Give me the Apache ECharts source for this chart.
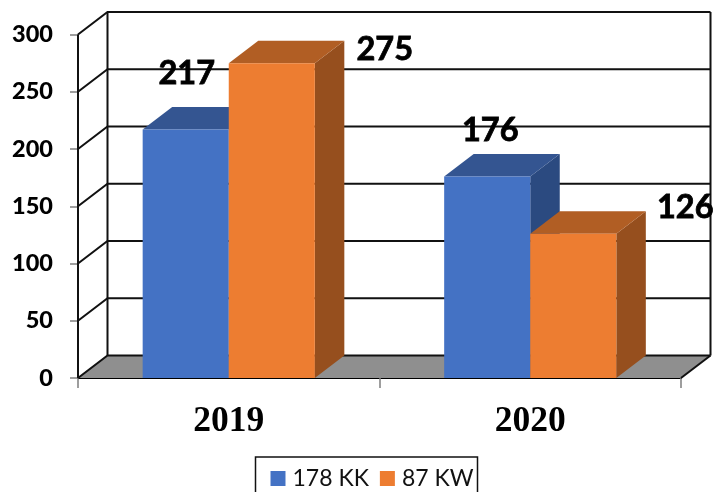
<!DOCTYPE html>
<html><head><meta charset="utf-8">
<style>html,body{margin:0;padding:0;background:#fff;overflow:hidden}#c{width:713px;height:492px}</style>
<script src="https://cdn.jsdelivr.net/npm/echarts@6/dist/echarts.min.js"></script>
</head><body><div id="c"></div>
<script>
const categories = ['2019', '2020'];
const valueTicks = [0, 50, 100, 150, 200, 250, 300];
const seriesNames = ['178 KK', '87 KW'];
const values178KK = [217, 176];
const values87KW = [275, 126];

const DEPTH_X = 29.5, DEPTH_Y = 22.5, BAR_RATIO = 0.2855;
const palette = [
  {front: '#4472C4', top: '#345591', side: '#2B4A80'},
  {front: '#ED7D31', top: '#B15E24', side: '#964F1E'}
];
const labelNudge = [
  [[1, -56], [113, -14]],
  [[3, -46], [112, -26]]
];

const chart = echarts.init(document.getElementById('c'), null, {renderer: 'canvas'});
const lineStyle = {stroke: '#111', lineWidth: 2, fill: null};

function renderFloor(params, api) {
  const cs = params.coordSys;
  const y0 = api.coord([0, 0])[1];
  const l = cs.x, r = cs.x + cs.width;
  return {type: 'polygon', silent: true,
    shape: {points: [[l, y0], [l + DEPTH_X, y0 - DEPTH_Y], [r + DEPTH_X, y0 - DEPTH_Y], [r, y0]]},
    style: {fill: '#8F8F8F', stroke: null}};
}
function renderWall(params, api) {
  const cs = params.coordSys;
  const v = api.value(1);
  const y = api.coord([0, v])[1];
  const l = cs.x, r = cs.x + cs.width;
  const kids = [
    {type: 'polyline', shape: {points: [[l, y], [l + DEPTH_X, y - DEPTH_Y], [r + DEPTH_X, y - DEPTH_Y]]}, style: lineStyle}
  ];
  if (v === 0) {
    kids.push({type: 'line', shape: {x1: r, y1: y, x2: r + DEPTH_X, y2: y - DEPTH_Y}, style: lineStyle});
    const top = cs.y;
    kids.push({type: 'line', shape: {x1: l, y1: y, x2: l, y2: top}, style: lineStyle});
    kids.push({type: 'line', shape: {x1: l + DEPTH_X, y1: y - DEPTH_Y, x2: l + DEPTH_X, y2: top - DEPTH_Y}, style: lineStyle});
    kids.push({type: 'line', shape: {x1: r + DEPTH_X, y1: y - DEPTH_Y, x2: r + DEPTH_X, y2: top - DEPTH_Y}, style: lineStyle});
  }
  return {type: 'group', silent: true, children: kids};
}
function renderBar(seriesPos) {
  return function (params, api) {
    const cat = api.value(0), val = api.value(1);
    const c = api.coord([cat, val]);
    const base = api.coord([cat, 0]);
    const w = api.size([1, 0])[0] * BAR_RATIO;
    const x0 = c[0] - w + seriesPos * w, x1 = x0 + w;
    const yt = c[1], yb = base[1];
    const p = palette[seriesPos];
    const nudge = labelNudge[cat][seriesPos];
    return {type: 'group', children: [
      {type: 'polygon', shape: {points: [[x1, yt], [x1 + DEPTH_X, yt - DEPTH_Y], [x1 + DEPTH_X, yb - DEPTH_Y], [x1, yb]]}, style: {fill: p.side}},
      {type: 'polygon', shape: {points: [[x0, yt], [x0 + DEPTH_X, yt - DEPTH_Y], [x1 + DEPTH_X, yt - DEPTH_Y], [x1, yt]]}, style: {fill: p.top}},
      {type: 'rect', shape: {x: x0, y: yt, width: w, height: yb - yt}, style: {fill: p.front}},
      {type: 'text', z2: 50, style: {
        text: String(val), x: (x0 + x1) / 2 + nudge[0], y: yt + nudge[1],
        align: 'center', verticalAlign: 'middle',
        font: 'bold 32.5px Lato', fill: '#000', stroke: '#000', lineWidth: 0.8}}
    ]};
  };
}

chart.setOption({
  backgroundColor: '#fff',
  animation: false,
  grid: {left: 78, top: 34.5, width: 603, height: 343.5},
  legend: {
    data: seriesNames, left: 255.5, top: 457, orient: 'horizontal', icon: 'rect',
    itemWidth: 15, itemHeight: 15, itemGap: 11,
    padding: [10, 4, 12, 15], borderColor: '#111', borderWidth: 1.5,
    selectedMode: false,
    textStyle: {fontFamily: 'Lato', fontSize: 23, color: '#111', padding: [0, 0, 0, 2]}
  },
  xAxis: {
    type: 'category', data: categories,
    axisLine: {lineStyle: {color: '#000', width: 2}},
    axisTick: {show: true, length: 10, lineStyle: {color: '#7F7F7F', width: 1.5}},
    axisLabel: {fontFamily: 'Liberation Serif', fontWeight: 'bold', fontSize: 35.5, color: '#000', margin: 26}
  },
  yAxis: {
    type: 'value', min: 0, max: 300, interval: 50,
    axisLine: {show: false},
    axisTick: {show: true, length: 8, lineStyle: {color: '#7F7F7F', width: 1.5}},
    splitLine: {show: false},
    axisLabel: {fontFamily: 'Lato', fontWeight: 900, fontSize: 23.5, color: '#000', margin: 25, padding: [6, 0, 0, 0]}
  },
  tooltip: {show: false},
  series: [
    {type: 'custom', name: 'floor', z: 1, renderItem: renderFloor, data: [[0, 0]], encode: {x: 0, y: 1}},
    {type: 'custom', name: 'walls', z: 2, renderItem: renderWall, data: valueTicks.map(v => [0, v]), encode: {x: 0, y: 1}},
    {type: 'custom', name: seriesNames[0], z: 3, renderItem: renderBar(0), itemStyle: {color: palette[0].front},
      data: values178KK.map((v, i) => [i, v]), encode: {x: 0, y: 1}},
    {type: 'custom', name: seriesNames[1], z: 4, renderItem: renderBar(1), itemStyle: {color: palette[1].front},
      data: values87KW.map((v, i) => [i, v]), encode: {x: 0, y: 1}}
  ]
});
</script></body></html>
